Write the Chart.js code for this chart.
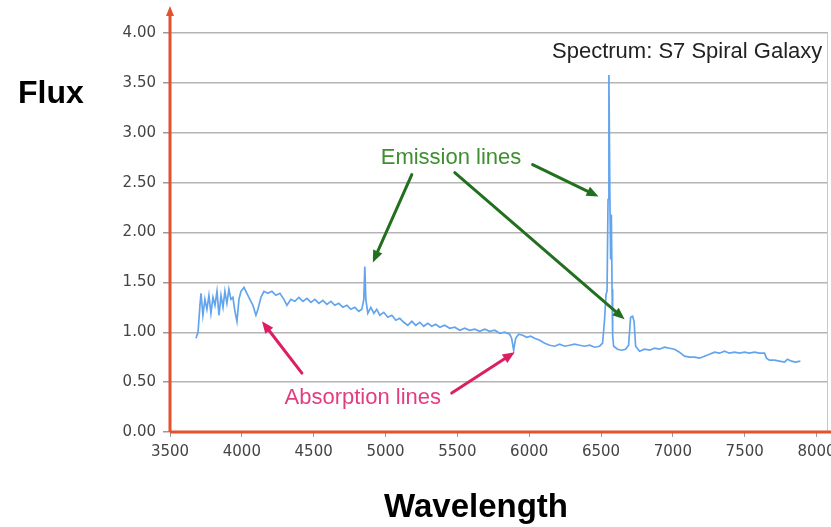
<!DOCTYPE html>
<html>
<head>
<meta charset="utf-8">
<script src="https://cdn.jsdelivr.net/npm/chart.js@4/dist/chart.umd.min.js"></script>
<style>
  html, body { margin: 0; padding: 0; background: #ffffff; }
  #wrap { width: 831px; height: 527px; position: relative; }
</style>
</head>
<body>
<div id="wrap"><canvas id="spectrum" width="831" height="527"></canvas></div>
<script>
// Observed spectrum of the S7 spiral galaxy: wavelength (Å) and relative flux
const wavelength = [
  3681, 3695, 3709, 3716, 3729, 3743, 3757, 3771, 3785, 3799,
  3813, 3827, 3841, 3855, 3869, 3882, 3896, 3910, 3924, 3938,
  3952, 3966, 3980, 3994, 4015, 4035, 4056, 4077, 4098, 4112,
  4133, 4154, 4181, 4209, 4237, 4265, 4293, 4314, 4341, 4369,
  4397, 4425, 4453, 4481, 4508, 4536, 4564, 4592, 4620, 4647,
  4675, 4703, 4731, 4759, 4786, 4814, 4835, 4849, 4856, 4863,
  4877, 4898, 4919, 4939, 4960, 4988, 5016, 5044, 5072, 5099,
  5127, 5155, 5183, 5211, 5239, 5266, 5294, 5322, 5350, 5378,
  5412, 5447, 5482, 5517, 5552, 5586, 5621, 5656, 5691, 5725,
  5760, 5795, 5830, 5864, 5878, 5892, 5906, 5927, 5955, 5983,
  6010, 6038, 6073, 6108, 6143, 6177, 6212, 6247, 6282, 6316,
  6351, 6386, 6421, 6456, 6490, 6511, 6525, 6535, 6542, 6549,
  6555, 6562, 6567, 6572, 6577, 6581, 6588, 6615, 6643, 6671,
  6692, 6706, 6720, 6730, 6741, 6768, 6803, 6838, 6873, 6907,
  6942, 6977, 7012, 7046, 7081, 7116, 7151, 7186, 7220, 7255,
  7290, 7325, 7360, 7394, 7429, 7464, 7499, 7533, 7568, 7603,
  7638, 7652, 7672, 7707, 7742, 7777, 7798, 7826, 7853, 7888
];
const flux = [
  0.94, 1.00, 1.28, 1.39, 1.17, 1.33, 1.23, 1.37, 1.19, 1.35,
  1.27, 1.41, 1.17, 1.37, 1.25, 1.41, 1.29, 1.43, 1.33, 1.35,
  1.21, 1.11, 1.33, 1.41, 1.45, 1.39, 1.33, 1.27, 1.17, 1.23,
  1.35, 1.41, 1.39, 1.41, 1.37, 1.39, 1.33, 1.27, 1.33, 1.31,
  1.35, 1.31, 1.34, 1.30, 1.33, 1.29, 1.32, 1.28, 1.31, 1.27,
  1.29, 1.25, 1.27, 1.23, 1.25, 1.21, 1.23, 1.33, 1.66, 1.33,
  1.19, 1.25, 1.19, 1.23, 1.17, 1.20, 1.15, 1.17, 1.12, 1.14,
  1.10, 1.07, 1.11, 1.07, 1.10, 1.06, 1.09, 1.06, 1.08, 1.05,
  1.07, 1.04, 1.05, 1.02, 1.04, 1.02, 1.03, 1.01, 1.03, 1.01,
  1.02, 0.99, 1.00, 0.98, 0.94, 0.82, 0.94, 0.98, 0.97, 0.95,
  0.96, 0.94, 0.92, 0.89, 0.87, 0.86, 0.88, 0.86, 0.87, 0.88,
  0.87, 0.86, 0.87, 0.85, 0.86, 0.89, 1.13, 1.38, 1.41, 2.33,
  3.58, 2.33, 1.73, 2.18, 1.43, 0.97, 0.86, 0.83, 0.82, 0.83,
  0.87, 1.15, 1.16, 1.11, 0.86, 0.81, 0.83, 0.82, 0.84, 0.83,
  0.85, 0.84, 0.83, 0.80, 0.76, 0.75, 0.75, 0.74, 0.76, 0.78,
  0.80, 0.79, 0.81, 0.79, 0.80, 0.79, 0.80, 0.79, 0.80, 0.79,
  0.79, 0.74, 0.72, 0.72, 0.71, 0.70, 0.73, 0.71, 0.70, 0.71
];

// Axis ranges and tick values
const xRange = [3500, 8080];
const xTicks = [3500, 4000, 4500, 5000, 5500, 6000, 6500, 7000, 7500, 8000];
const yRange = [0, 4];
const yTicks = [0, 0.5, 1, 1.5, 2, 2.5, 3, 3.5, 4];

// Callouts, anchored in data space: [fromWavelength, fromFlux, toWavelength, toFlux]
const emissionLabel = { text: 'Emission lines', at: [5456, 2.75] };
const emissionArrows = [
  [5183, 2.58, 4912, 1.70],
  [6024, 2.68, 6483, 2.36],
  [5482, 2.60, 6664, 1.13]
];
const absorptionLabel = { text: 'Absorption lines', at: [4842, 0.34] };
const absorptionArrows = [
  [4418, 0.59, 4140, 1.11],
  [5461, 0.39, 5899, 0.80]
];
const plotTitle = { text: 'Spectrum: S7 Spiral Galaxy', at: [8040, 3.81] };

const AXIS_RED = '#e2532c';
const GREEN_TEXT = '#3f8f30';
const GREEN_ARROW = '#22701f';
const PINK_TEXT = '#e23d80';
const PINK_ARROW = '#dc1f62';

function drawArrow(ctx, x1, y1, x2, y2, color) {
  const ang = Math.atan2(y2 - y1, x2 - x1);
  const head = 12, half = 5;
  const bx = x2 - head * Math.cos(ang), by = y2 - head * Math.sin(ang);
  ctx.save();
  ctx.strokeStyle = color;
  ctx.fillStyle = color;
  ctx.lineWidth = 3;
  ctx.lineCap = 'round';
  ctx.beginPath();
  ctx.moveTo(x1, y1);
  ctx.lineTo(bx, by);
  ctx.stroke();
  ctx.beginPath();
  ctx.moveTo(x2, y2);
  ctx.lineTo(bx + half * Math.sin(ang), by - half * Math.cos(ang));
  ctx.lineTo(bx - half * Math.sin(ang), by + half * Math.cos(ang));
  ctx.closePath();
  ctx.fill();
  ctx.restore();
}

const decorations = {
  id: 'decorations',
  afterDraw(chart) {
    const { ctx, chartArea: a, scales: { x, y } } = chart;
    ctx.save();

    // thin frame line on the right of the plot
    ctx.strokeStyle = '#c8c8c8';
    ctx.lineWidth = 1;
    ctx.beginPath();
    ctx.moveTo(a.right - 0.5, a.top);
    ctx.lineTo(a.right - 0.5, a.bottom);
    ctx.stroke();

    // red axes, the vertical one ending in an arrowhead
    ctx.strokeStyle = AXIS_RED;
    ctx.fillStyle = AXIS_RED;
    ctx.lineWidth = 3;
    ctx.beginPath();
    ctx.moveTo(a.left, a.bottom);
    ctx.lineTo(chart.width, a.bottom);
    ctx.moveTo(a.left, a.bottom);
    ctx.lineTo(a.left, 14);
    ctx.stroke();
    ctx.beginPath();
    ctx.moveTo(a.left, 6);
    ctx.lineTo(a.left - 4, 16);
    ctx.lineTo(a.left + 4, 16);
    ctx.closePath();
    ctx.fill();

    // axis names
    ctx.fillStyle = '#000000';
    ctx.font = 'bold 32px "Liberation Sans", Arial, sans-serif';
    ctx.textBaseline = 'alphabetic';
    ctx.textAlign = 'left';
    ctx.fillText('Flux', 18, 103);
    ctx.textAlign = 'center';
    ctx.font = 'bold 33px "Liberation Sans", Arial, sans-serif';
    ctx.fillText('Wavelength', 476, 517);

    // plot title
    ctx.font = '22px "Liberation Sans", Arial, sans-serif';
    ctx.fillStyle = '#222222';
    ctx.textAlign = 'right';
    ctx.textBaseline = 'middle';
    ctx.fillText(plotTitle.text, x.getPixelForValue(plotTitle.at[0]), y.getPixelForValue(plotTitle.at[1]));

    // emission callouts
    ctx.textAlign = 'center';
    ctx.fillStyle = GREEN_TEXT;
    ctx.fillText(emissionLabel.text, x.getPixelForValue(emissionLabel.at[0]), y.getPixelForValue(emissionLabel.at[1]));
    emissionArrows.forEach(([w1, f1, w2, f2]) => drawArrow(ctx,
      x.getPixelForValue(w1), y.getPixelForValue(f1),
      x.getPixelForValue(w2), y.getPixelForValue(f2), GREEN_ARROW));

    // absorption callouts
    ctx.fillStyle = PINK_TEXT;
    ctx.fillText(absorptionLabel.text, x.getPixelForValue(absorptionLabel.at[0]), y.getPixelForValue(absorptionLabel.at[1]));
    absorptionArrows.forEach(([w1, f1, w2, f2]) => drawArrow(ctx,
      x.getPixelForValue(w1), y.getPixelForValue(f1),
      x.getPixelForValue(w2), y.getPixelForValue(f2), PINK_ARROW));

    ctx.restore();
  }
};

const tickFont = { family: '"DejaVu Sans", Verdana, sans-serif', size: 15 };

new Chart(document.getElementById('spectrum').getContext('2d'), {
  type: 'line',
  data: {
    datasets: [{
      label: 'Flux',
      data: wavelength.map((w, i) => ({ x: w, y: flux[i] })),
      borderColor: '#62a5ee',
      borderWidth: 1.7,
      pointRadius: 0,
      tension: 0,
      fill: false
    }]
  },
  options: {
    responsive: false,
    animation: false,
    events: [],
    layout: { padding: { top: 33, right: 3, left: 0, bottom: 0 } },
    plugins: { legend: { display: false }, tooltip: { enabled: false }, title: { display: false } },
    scales: {
      x: {
        type: 'linear',
        min: xRange[0],
        max: xRange[1],
        border: { display: false },
        grid: { drawOnChartArea: false, drawTicks: true, tickLength: 5, lineWidth: 1, color: '#9a9a9a' },
        ticks: {
          maxRotation: 0,
          minRotation: 0,
          autoSkip: false,
          padding: 6,
          color: '#444444',
          font: tickFont,
          callback: v => String(v)
        },
        afterBuildTicks: s => { s.ticks = xTicks.map(v => ({ value: v })); },
        afterFit: s => { s.height = 95; s.paddingLeft = 0; s.paddingRight = 0; }
      },
      y: {
        min: yRange[0],
        max: yRange[1],
        border: { display: false },
        grid: { color: '#b4b4b4', lineWidth: 1.5, drawTicks: true, tickLength: 7, tickColor: '#9a9a9a' },
        ticks: {
          padding: 7,
          color: '#444444',
          font: tickFont,
          callback: v => Number(v).toFixed(2)
        },
        afterBuildTicks: s => { s.ticks = yTicks.map(v => ({ value: v })); },
        afterFit: s => { s.width = 170; s.paddingTop = 0; s.paddingBottom = 0; }
      }
    }
  },
  plugins: [decorations]
});
</script>
</body>
</html>
